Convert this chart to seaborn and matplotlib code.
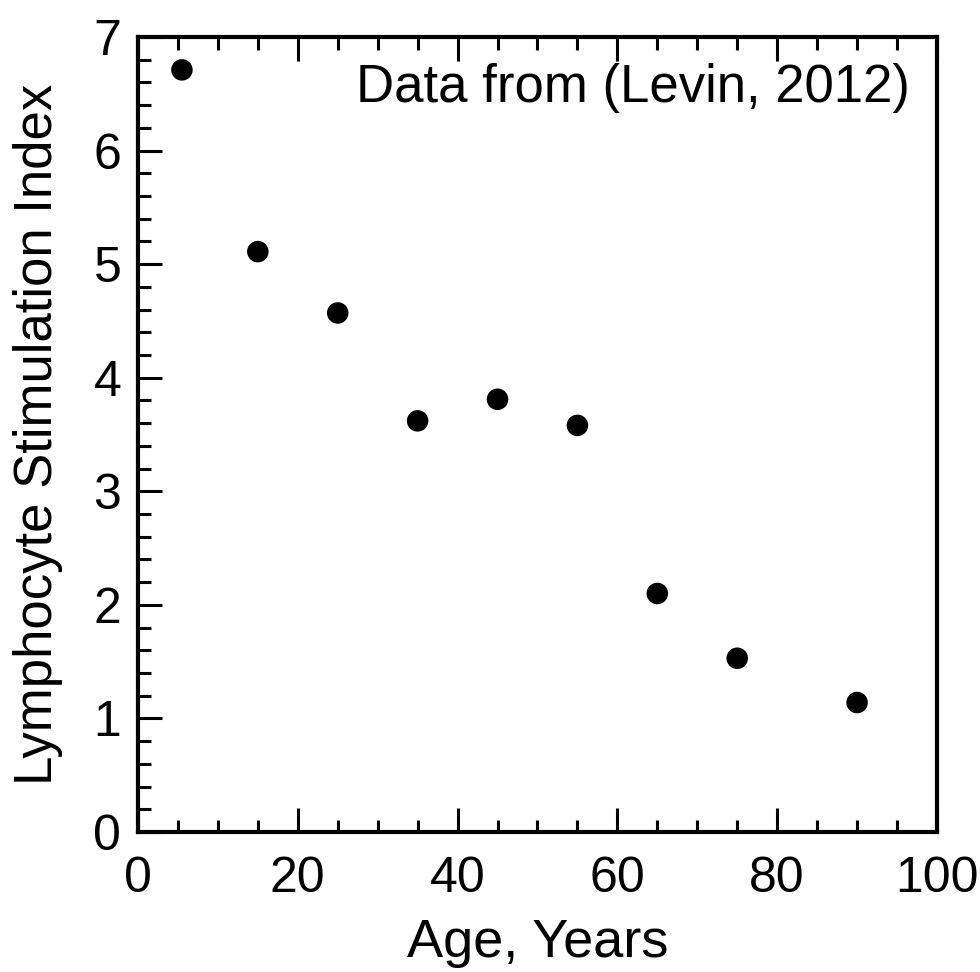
import numpy as np
import pandas as pd
import matplotlib
matplotlib.use("Agg")
import matplotlib.pyplot as plt
import seaborn as sns
from matplotlib.ticker import MultipleLocator

# data
age = [5.5, 15, 25, 35, 45, 55, 65, 75, 90]
stim_index = [6.71, 5.11, 4.57, 3.62, 3.81, 3.58, 2.10, 1.53, 1.14]

df = pd.DataFrame({"age": age, "index": stim_index})

sns.set_style("ticks")
plt.rcParams["font.family"] = ["Liberation Sans", "DejaVu Sans"]
plt.rcParams["text.color"] = "black"
plt.rcParams["axes.labelcolor"] = "black"
plt.rcParams["xtick.labelcolor"] = "black"
plt.rcParams["ytick.labelcolor"] = "black"

fig = plt.figure(figsize=(9.8, 9.72), dpi=100)
ax = fig.add_axes([0.1408, 0.144, 0.8153, 0.818])

sns.scatterplot(data=df, x="age", y="index", ax=ax, color="black",
                edgecolor="none", s=240, legend=False, zorder=3)

ax.set_xlim(0, 100)
ax.set_ylim(0, 7)
ax.xaxis.set_major_locator(MultipleLocator(20))
ax.xaxis.set_minor_locator(MultipleLocator(5))
ax.yaxis.set_major_locator(MultipleLocator(1))
ax.yaxis.set_minor_locator(MultipleLocator(0.2))

for sp in ax.spines.values():
    sp.set_linewidth(3)
    sp.set_color("black")

ax.tick_params(which="both", direction="in", top=True, right=False,
               width=2.2, color="black")
ax.tick_params(which="major", length=17, labelsize=36)
ax.tick_params(which="minor", length=9)
ax.tick_params(axis="x", which="major", pad=17)
ax.tick_params(axis="y", which="major", pad=12)

ax.set_xlabel("Age, Years", fontsize=39, labelpad=12)
ax.set_ylabel("Lymphocyte Stimulation Index", fontsize=38, labelpad=22)

ax.text(0.966, 0.936, "Data from (Levin, 2012)", transform=ax.transAxes,
        ha="right", va="center", fontsize=38)

fig.savefig("out.png", dpi=100)
